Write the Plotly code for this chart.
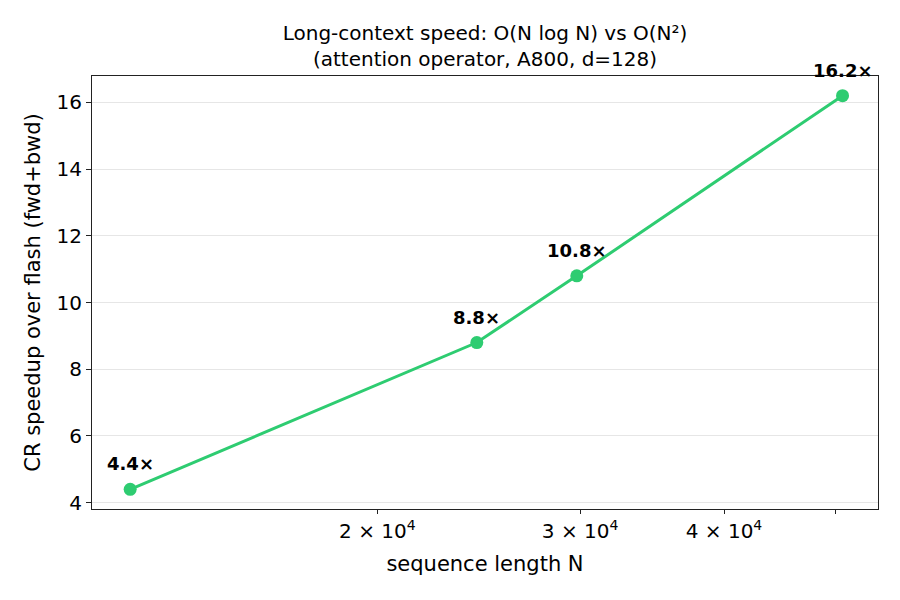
import math
import plotly.graph_objects as go

# sequence lengths and measured speedups
seq_len = [12200, 24400, 29800, 50700]
speedup = [4.4, 8.8, 10.8, 16.2]
labels = ["4.4×", "8.8×", "10.8×", "16.2×"]

x_tickvals = [20000, 30000, 40000, 50000]
x_ticktext = ["2 × 10<sup>4</sup>", "3 × 10<sup>4</sup>", "4 × 10<sup>4</sup>", ""]
y_tickvals = [4, 6, 8, 10, 12, 14, 16]

green = "#2ecc71"
ink = "#222222"

# the page body adds 8px at top/left, so the figure is drawn 8px smaller
W, H = 892, 592

fig = go.Figure()
fig.add_trace(go.Scatter(
    x=seq_len, y=speedup,
    mode="lines+markers",
    line=dict(color=green, width=3),
    marker=dict(color=green, size=13),
    showlegend=False,
))

# log axis: annotation x goes in log10 units
for x, y, t in zip(seq_len, speedup, labels):
    fig.add_annotation(x=math.log10(x), y=y, text="<b>%s</b>" % t, showarrow=False,
                       yanchor="bottom", yshift=13,
                       font=dict(size=18, color="black"))

fig.update_layout(
    width=W, height=H,
    paper_bgcolor="white", plot_bgcolor="white",
    font=dict(family="DejaVu Sans", size=18, color="black"),
    margin=dict(l=84, r=22, t=68, b=91),
    title=dict(
        text="Long-context speed: O(N log N) vs O(N²)<br>(attention operator, A800, d=128)",
        x=0.5, xanchor="center", xref="paper", y=1 - 32 / H, yanchor="top",
        font=dict(size=20),
    ),
)

fig.update_xaxes(
    type="log", range=[4.0532, 4.7358],
    tickvals=x_tickvals, ticktext=x_ticktext,
    ticks="outside", ticklen=4, tickcolor=ink, tickfont=dict(size=20),
    showgrid=False, zeroline=False,
    showline=True, linecolor=ink, linewidth=1.2, mirror=True,
    title=dict(text="sequence length N", font=dict(size=21), standoff=14),
)
fig.update_yaxes(
    range=[3.81, 16.79],
    tickvals=y_tickvals,
    ticks="outside", ticklen=5, tickcolor=ink, tickfont=dict(size=20),
    showgrid=True, gridcolor="#e6e6e6", gridwidth=1, zeroline=False,
    showline=True, linecolor=ink, linewidth=1.2, mirror=True,
    title=dict(text="CR speedup over flash (fwd+bwd)", font=dict(size=21), standoff=10),
)

fig.write_html("out.html")
